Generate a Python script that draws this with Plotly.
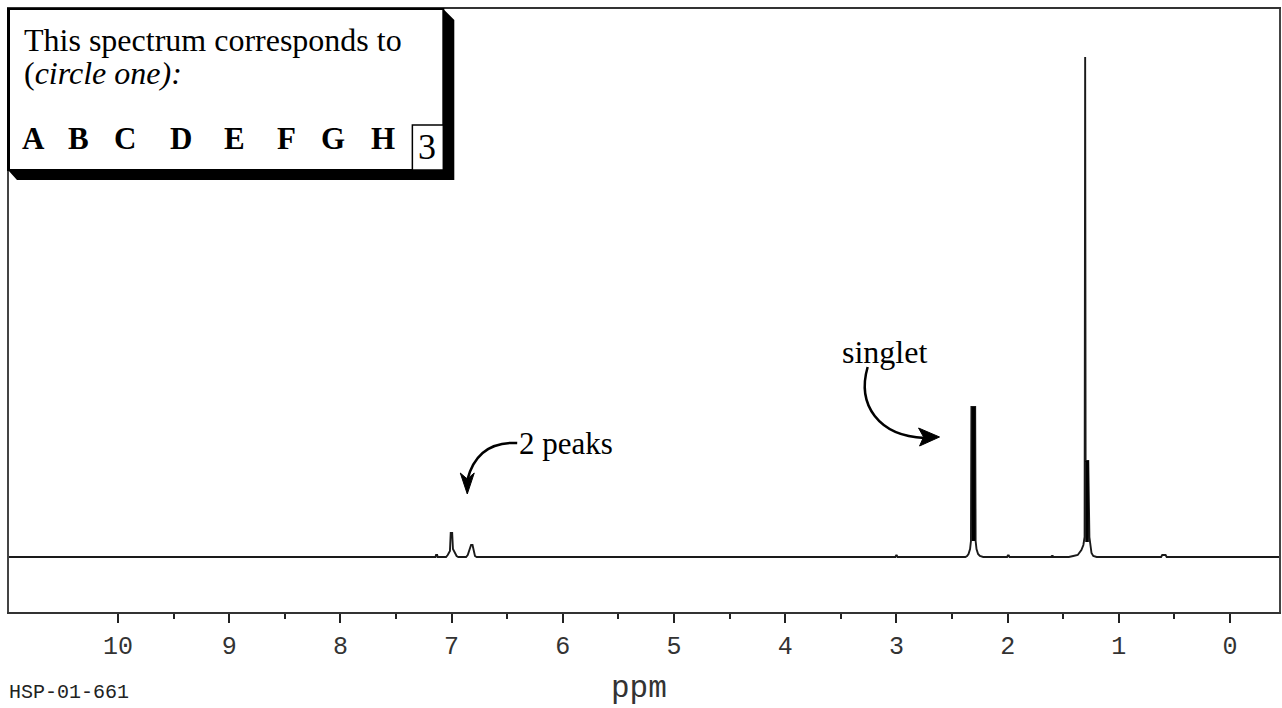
import plotly.graph_objects as go

# ---------------- data ----------------
# spectrum profile: chemical shift (ppm) and intensity (arbitrary, baseline = 0)
ppm = [10.98, 7.20, 7.145, 7.140, 7.130, 7.125, 7.05, 7.035, 7.015, 7.008, 6.995,
       6.988, 6.975, 6.965, 6.955, 6.94, 6.87, 6.855, 6.835, 6.825, 6.812, 6.800,
       6.790, 6.775, 3.01, 3.003, 2.997, 2.99, 2.42, 2.38, 2.365, 2.352, 2.338,
       2.330, 2.326, 2.292, 2.288, 2.280, 2.266, 2.250, 2.22, 2.005, 1.998, 1.990,
       1.983, 1.61, 1.602, 1.595, 1.587, 1.45, 1.41, 1.37, 1.337, 1.319, 1.308,
       1.303, 1.299, 1.275, 1.265, 1.255, 1.246, 1.23, 1.20, 0.62, 0.610, 0.580,
       0.570, -0.44]
intensity = [0, 0, 0, 2, 2, 0, 0, 2, 6, 24, 24,
             8, 5, 4, 1, 0, 0, 2, 10, 12, 12, 5,
             1, 0, 0, 1.5, 1.5, 0, 0, 0, 1, 3, 8,
             16, 150, 150, 16, 8, 3, 1, 0, 0, 1.5, 1.5,
             0, 0, 1, 1, 0, 0, 1, 2, 7, 12, 20,
             500, 96, 96, 20, 12, 4, 1, 0, 0, 2, 2,
             0, 0]

# thick cores of the sharp lines
core_ppm = [2.307, 1.286]
core_top = [150, 96]
core_base = [16, 15]

major_ticks = [0, 1, 2, 3, 4, 5, 6, 7, 8, 9, 10]
tick_labels = [str(v) for v in major_ticks]
minor_ticks = [0.5, 1.5, 2.5, 3.5, 4.5, 5.5, 6.5, 7.5, 8.5, 9.5]

choices = ["A", "B", "C", "D", "E", "F", "G", "H"]
choice_x = [34, 79, 125, 181, 235, 287, 334, 384]

# ---------------- layout helpers (pixel -> paper) ----------------
L, R, T, B = 9, 1281, 9, 612


def fx(x):
    return (x - L) / (R - L)


def fy(y):
    return (B - y) / (B - T)


def P(x, y):
    return f"{fx(x):.5f},{fy(y):.5f}"


fig = go.Figure()

fig.add_trace(go.Scatter(x=ppm, y=intensity, mode="lines",
                         line=dict(color="#1a1a1a", width=1.9),
                         hoverinfo="skip", showlegend=False))

cx, cy = [], []
for p, t, b in zip(core_ppm, core_top, core_base):
    cx += [p, p, None]
    cy += [b, t, None]
fig.add_trace(go.Scatter(x=cx, y=cy, mode="lines",
                         line=dict(color="#000000", width=3.6),
                         hoverinfo="skip", showlegend=False))

shapes = []
# shadow of the box
shapes.append(dict(type="path", xref="paper", yref="paper",
                   path=f"M {P(444,9)} L {P(455,20)} L {P(455,180)} L {P(17,180)} L {P(8,170)} L {P(444,170)} Z",
                   fillcolor="black", line=dict(width=0)))
# box
shapes.append(dict(type="rect", xref="paper", yref="paper",
                   x0=fx(8), x1=fx(444), y0=fy(170), y1=fy(9),
                   fillcolor="white", line=dict(color="black", width=2)))
shapes.append(dict(type="line", xref="paper", yref="paper",
                   x0=fx(8.5), x1=fx(8.5), y0=fy(170), y1=fy(9),
                   line=dict(color="black", width=3)))
# small "3" box
shapes.append(dict(type="rect", xref="paper", yref="paper",
                   x0=fx(413), x1=fx(444), y0=fy(170), y1=fy(125),
                   fillcolor="white", line=dict(color="black", width=1.5)))
# curved arrow for "2 peaks"
shapes.append(dict(type="path", xref="paper", yref="paper",
                   path=f"M {P(518,443)} Q {P(478,441)} {P(468,480)}",
                   line=dict(color="black", width=2.5)))
shapes.append(dict(type="path", xref="paper", yref="paper",
                   path=f"M {P(468,494)} L {P(461,473)} L {P(468,479)} L {P(475,473)} Z",
                   fillcolor="black", line=dict(color="black", width=1)))
# curved arrow for "singlet"
shapes.append(dict(type="path", xref="paper", yref="paper",
                   path=f"M {P(869,367)} C {P(858,405)} {P(880,436)} {P(926,438)}",
                   line=dict(color="black", width=2.5)))
shapes.append(dict(type="path", xref="paper", yref="paper",
                   path=f"M {P(941,437)} L {P(920,428)} L {P(925,437)} L {P(921,446)} Z",
                   fillcolor="black", line=dict(color="black", width=1)))

serif = "Liberation Serif"
ann = []
ann.append(dict(text="This spectrum corresponds to", x=fx(22), y=fy(40),
                xanchor="left", yanchor="middle",
                font=dict(family=serif, size=32, color="black")))
ann.append(dict(text="(<i>circle one):</i>", x=fx(22), y=fy(73),
                xanchor="left", yanchor="middle",
                font=dict(family=serif, size=32, color="black")))
for c, x in zip(choices, choice_x):
    ann.append(dict(text=f"<b>{c}</b>", x=fx(x), y=fy(138),
                    xanchor="center", yanchor="middle",
                    font=dict(family=serif, size=31, color="black")))
ann.append(dict(text="3", x=fx(428), y=fy(147), xanchor="center", yanchor="middle",
                font=dict(family=serif, size=36, color="black")))
ann.append(dict(text="2 peaks", x=fx(518), y=fy(444), xanchor="left", yanchor="middle",
                font=dict(family=serif, size=31, color="black")))
ann.append(dict(text="singlet", x=fx(886), y=fy(352), xanchor="center", yanchor="middle",
                font=dict(family=serif, size=32, color="black")))
ann.append(dict(text="ppm", x=fx(640), y=fy(688), xanchor="center", yanchor="middle",
                font=dict(family="Liberation Mono", size=31, color="#333")))
ann.append(dict(text="HSP-01-661", x=fx(7), y=fy(692), xanchor="left", yanchor="middle",
                font=dict(family="Liberation Mono", size=20, color="#222")))
for a in ann:
    a.update(xref="paper", yref="paper", showarrow=False)

fig.update_layout(
    width=1282, height=708,
    margin=dict(l=L, r=1282 - R, t=T, b=708 - B, pad=0),
    paper_bgcolor="white", plot_bgcolor="white",
    shapes=shapes, annotations=ann, showlegend=False,
    xaxis=dict(range=[10.98, -0.44], showgrid=False, zeroline=False,
               showline=True, mirror=True, linecolor="#333", linewidth=2,
               ticks="outside", ticklen=9, tickwidth=2, tickcolor="#222",
               tickvals=major_ticks, ticktext=tick_labels,
               ticklabelstandoff=1,
               tickfont=dict(family="Liberation Mono", size=25, color="#333"),
               minor=dict(tickvals=minor_ticks, ticks="outside", ticklen=5,
                          tickwidth=2, tickcolor="#222", showgrid=False)),
    yaxis=dict(range=[-55, 548], showgrid=False, zeroline=False,
               showline=True, mirror=True, linecolor="#444", linewidth=1.5,
               showticklabels=False, ticks=""),
)

fig.write_html("out.html")
